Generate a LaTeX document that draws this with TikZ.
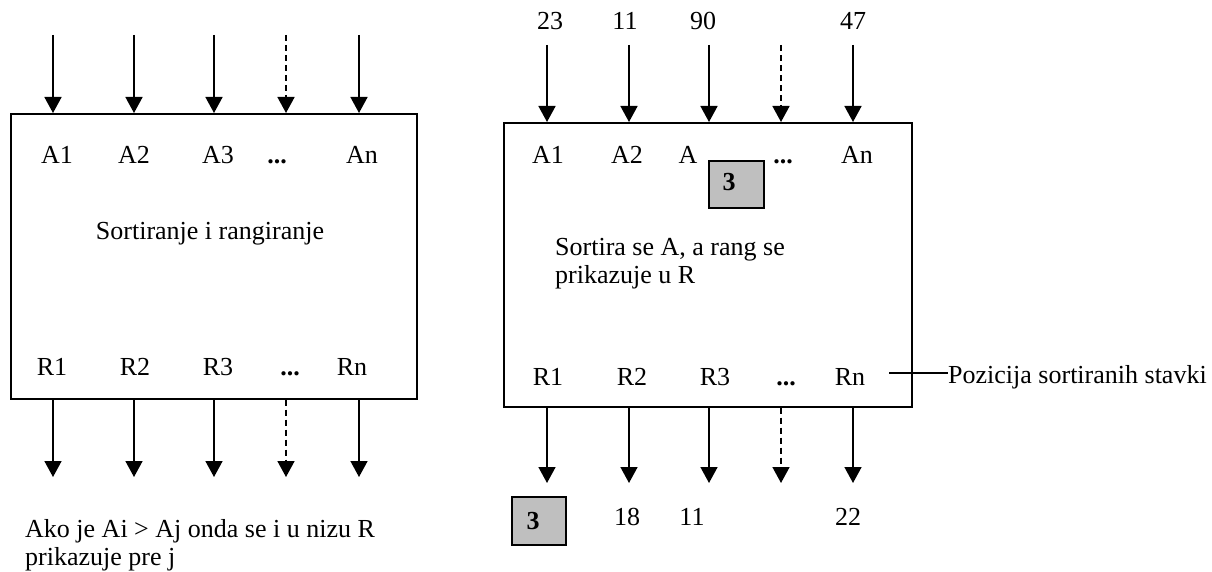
\documentclass[tikz,border=0pt]{standalone}
\usepackage{fontspec}
\setmainfont{Liberation Serif}
\usetikzlibrary{arrows.meta}
\begin{document}
\begin{tikzpicture}[x=1pt,y=-1pt,
  lw/.style={line width=1.6pt},
  blockbox/.style={draw,lw,inner sep=0pt,anchor=north west},
  flow/.style={lw,-{Triangle[length=16pt,width=17pt]}},
  flowdash/.style={flow,dash pattern=on 6pt off 4pt},
  lbl/.style={anchor=base,inner sep=0pt,font=\fontsize{26pt}{28pt}\selectfont},
  txt/.style={anchor=base west,inner sep=0pt,align=left,font=\fontsize{26pt}{28pt}\selectfont},
  rankbox/.style={draw,lw,fill=black!25,inner sep=0pt,minimum width=55pt,minimum height=47pt,anchor=north west}
]
\useasboundingbox (0,0) rectangle (1212,572);

% ---------- left block: general scheme ----------
\node[blockbox,minimum width=406pt,minimum height=285pt] (lbox) at (10,113) {};
\foreach \x/\n in {53/1,134/2,214/3,359/5}{
  \coordinate (lin\n) at (\x,35);
  \coordinate (lout\n) at (\x,477);
  \draw[flow] (lin\n) -- (lin\n |- lbox.north);
  \draw[flow] (lin\n |- lbox.south) -- (lout\n);
}
\coordinate (lin4) at (286,35);
\coordinate (lout4) at (286,477);
\draw[flowdash] (lin4) -- (lin4 |- lbox.north);
\draw[flowdash] (lin4 |- lbox.south) -- (lout4);

\node[lbl] (la1) at (57,164) {A1};
\node[lbl] (la2) at (134,164) {A2};
\node[lbl] (la3) at (218,164) {A3};
\node[lbl] (lad) at (277,164) {\textbf{...}};
\node[lbl] (lan) at (362,164) {An};
\node[lbl] (ltitle) at (210,239) {Sortiranje i rangiranje};
\node[lbl] (lr1) at (52,375) {R1};
\node[lbl] (lr2) at (135,375) {R2};
\node[lbl] (lr3) at (218,375) {R3};
\node[lbl] (lrd) at (290,375) {\textbf{...}};
\node[lbl] (lrn) at (352,375) {Rn};
% the base anchor of a two-line node sits on its last line
\node[txt] (lnote) at (25,565) {Ako je Ai > Aj onda se i u nizu R\\prikazuje pre j};

% ---------- right block: example ----------
\node[blockbox,minimum width=408pt,minimum height=284pt] (rbox) at (503,122) {};
\foreach \x/\n in {547/1,629/2,709/3,853/5}{
  \coordinate (rin\n) at (\x,45);
  \coordinate (rout\n) at (\x,483);
  \draw[flow] (rin\n) -- (rin\n |- rbox.north);
  \draw[flow] (rin\n |- rbox.south) -- (rout\n);
}
\coordinate (rin4) at (781,45);
\coordinate (rout4) at (781,483);
\draw[flowdash] (rin4) -- (rin4 |- rbox.north);
\draw[flowdash] (rin4 |- rbox.south) -- (rout4);

\node[lbl] (v1) at (550,30) {23};
\node[lbl] (v2) at (625,30) {11};
\node[lbl] (v3) at (703,30) {90};
\node[lbl] (v5) at (853,30) {47};

\node[lbl] (ra1) at (548,164) {A1};
\node[lbl] (ra2) at (627,164) {A2};
\node[lbl] (ra3) at (688,164) {A};
\node[rankbox] (rk1) at (708,160) {};
\node[lbl] (rk1t) at (729,191) {\textbf{3}};
\node[lbl] (rad) at (783,164) {\textbf{...}};
\node[lbl] (ran) at (857,164) {An};
\node[txt] (rtitle) at (555,283) {Sortira se A, a rang se\\prikazuje u R};
\node[lbl] (rr1) at (548,385) {R1};
\node[lbl] (rr2) at (632,385) {R2};
\node[lbl] (rr3) at (715,385) {R3};
\node[lbl] (rrd) at (786,385) {\textbf{...}};
\node[lbl] (rrn) at (850,385) {Rn};

\node[txt] (pos) at (948,383) {Pozicija sortiranih stavki};
\coordinate (posl) at (889,373);
\draw[lw] (posl) -- (pos.west |- posl);

\node[rankbox,minimum width=54pt,minimum height=48pt] (rk2) at (511,496) {};
\node[lbl] (rk2t) at (533,529) {\textbf{3}};
\node[lbl] (o2) at (627,525) {18};
\node[lbl] (o3) at (692,525) {11};
\node[lbl] (o5) at (848,525) {22};
\end{tikzpicture}
\end{document}
